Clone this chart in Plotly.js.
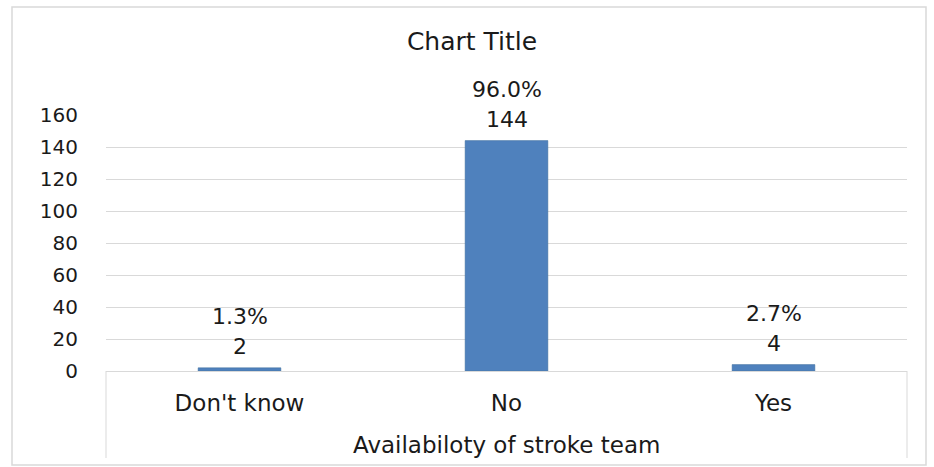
<!DOCTYPE html>
<html><head><meta charset="utf-8">
<script src="https://cdn.plot.ly/plotly-3.0.1.min.js"></script>
<style>html,body{margin:0;padding:0;background:#fff;}#chart{width:934px;height:467px;}</style>
</head><body><div id="chart"></div>
<script>
const categories = ["Don't know", "No", "Yes"];
const counts = [2, 144, 4];
const percents = ["1.3%", "96.0%", "2.7%"];
const yTicks = [0, 20, 40, 60, 80, 100, 120, 140, 160];
const axisTitle = "Availabiloty of stroke team";
const chartTitle = "Chart Title";

const FONT = "'DejaVu Sans', Verdana, sans-serif";
const TXT = "#1a1a1a";

const annotations = [];
categories.forEach((c, i) => {
  annotations.push({x: c, y: counts[i], xref: 'x', yref: 'y', text: String(counts[i]),
    showarrow: false, yanchor: 'bottom', yshift: 7, font: {family: FONT, size: 22, color: TXT}});
  annotations.push({x: c, y: counts[i], xref: 'x', yref: 'y', text: percents[i],
    showarrow: false, yanchor: 'bottom', yshift: 37, font: {family: FONT, size: 22, color: TXT}});
});
annotations.push({x: 0.5, y: -0.29, xref: 'paper', yref: 'paper', text: axisTitle, showarrow: false,
  yanchor: 'middle', font: {family: FONT, size: 23, color: TXT}});

const data = [{
  type: 'bar', x: categories, y: counts, width: 0.31,
  marker: {color: '#4f81bd', line: {color: '#41719c', width: 0.5}},
  hoverinfo: 'x+y'
}];

const layout = {
  width: 934, height: 467,
  margin: {l: 106, r: 27, t: 115, b: 96},
  paper_bgcolor: '#fff', plot_bgcolor: '#fff',
  title: {text: chartTitle, x: 472/934, xref: 'container', xanchor: 'center', y: 1 - 41/467, yref: 'container', yanchor: 'middle',
    font: {family: FONT, size: 25, color: TXT}},
  font: {family: FONT, color: TXT},
  showlegend: false,
  xaxis: {type: 'category', showgrid: false, showline: true, linecolor: '#d9d9d9', linewidth: 1,
    ticks: '', tickfont: {family: FONT, size: 23, color: TXT}, ticklabelstandoff: 11, fixedrange: true},
  yaxis: {range: [0, 160], tickvals: yTicks, showgrid: true, gridcolor: '#d9d9d9', gridwidth: 1,
    zeroline: false, showline: false, ticks: '', ticklabelstandoff: 27,
    tickfont: {family: FONT, size: 20, color: TXT}, fixedrange: true},
  annotations: annotations,
  shapes: [
    {type: 'line', xref: 'paper', yref: 'paper', x0: 0, x1: 0, y0: 0, y1: -0.34, line: {color: '#d9d9d9', width: 1}},
    {type: 'line', xref: 'paper', yref: 'paper', x0: 1, x1: 1, y0: 0, y1: -0.34, line: {color: '#d9d9d9', width: 1}},
    {type: 'rect', xref: 'paper', yref: 'paper', x0: -94/801, x1: 1 + 19/801, y0: -94/256, y1: 1 + 108/256,
      line: {color: '#d9d9d9', width: 1.5}, fillcolor: 'rgba(0,0,0,0)'}
  ]
};

Plotly.newPlot('chart', data, layout, {displayModeBar: false, staticPlot: true});
</script></body></html>
